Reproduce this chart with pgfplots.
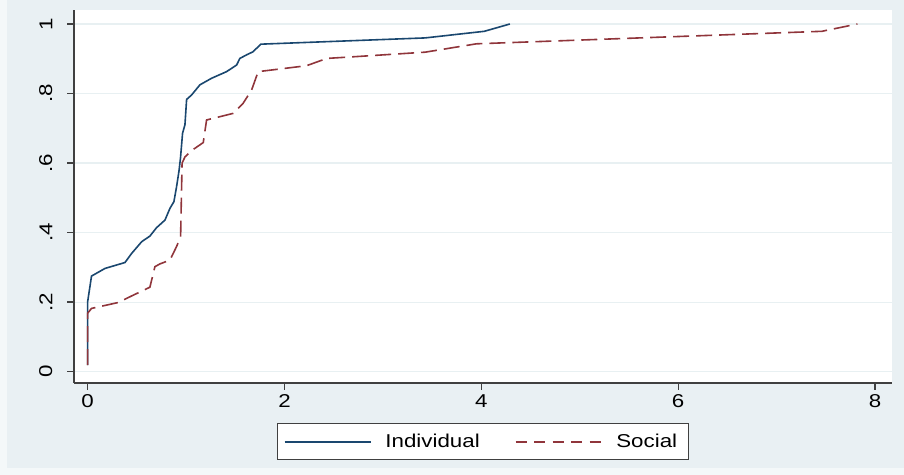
\documentclass[border=0pt]{standalone}
\usepackage{pgfplots}
\pgfplotsset{compat=1.18}
\usepackage{fontspec}
\setmainfont{Liberation Sans}[FakeStretch=1.2]
\definecolor{navy}{RGB}{26,71,111}
\definecolor{maroon}{RGB}{144,53,59}
\definecolor{bgc}{RGB}{233,240,243}
\definecolor{gridc}{RGB}{232,240,242}
\begin{document}
\fontsize{9.3}{11}\selectfont
\begin{tikzpicture}
\useasboundingbox (0,0) rectangle (452pt,237.5pt);
\fill[white!50!bgc] (0,0) rectangle (452pt,237.5pt);
\fill[bgc] (3.5pt,3.5pt) rectangle (452pt,237.5pt);
\begin{axis}[
  at={(37pt,46pt)}, anchor=south west,
  scale only axis, width=409pt, height=186.5pt,
  xmin=-0.138, xmax=8.172, ymin=-0.0325, ymax=1.0403,
  axis x line*=bottom, axis y line*=left,
  axis line style={draw=black!75, line width=0.7pt, -},
  axis background/.style={fill=white},
  xtick={0,2,4,6,8}, xticklabels={0,2,4,6,8},
  ytick={0,0.2,0.4,0.6,0.8,1}, yticklabels={0,.2,.4,.6,.8,1},
  tick align=outside, major tick length=3.5pt,
  tick style={draw=black!75, line width=0.7pt},
  ymajorgrids, grid style={gridc, line width=0.6pt},
  yticklabel style={rotate=90, anchor=south, yshift=4pt},
  xticklabel style={yshift=1pt},
  legend columns=2,
  legend image code/.code={\draw[#1] (0pt,0pt) -- (43pt,0pt);},
  legend style={at={(0.5,-0.1072)}, anchor=north, draw=black!75, line width=0.6pt,
    fill=white, inner xsep=3pt, inner ysep=2.5pt,
    nodes={inner sep=2.5pt},
    /tikz/every odd column/.append style={column sep=4.5pt},
    /tikz/every even column/.append style={column sep=15pt}},
  legend cell align=left,
]
\addlegendimage{navy, line width=0.8pt}
\addlegendentry{Individual}
\addlegendimage{maroon, line width=0.8pt, dash pattern=on 5.5pt off 3.75pt}
\addlegendentry{Social\hspace{1.5pt}}
\addplot[navy, line width=0.8pt, forget plot] coordinates {
(0,0.019) (0,0.2) (0.04,0.275) (0.177,0.297) (0.38,0.314) (0.447,0.34)
(0.55,0.374) (0.633,0.39) (0.70,0.414) (0.786,0.436) (0.837,0.47)
(0.877,0.489) (0.904,0.532) (0.93,0.58) (0.945,0.618) (0.965,0.686)
(0.989,0.71) (1.006,0.783) (1.057,0.796) (1.141,0.825) (1.26,0.844)
(1.412,0.863) (1.514,0.882) (1.547,0.901) (1.62,0.912) (1.68,0.92)
(1.76,0.942) (3.43,0.96) (4.03,0.979) (4.29,1.0)
};
\addplot[maroon, line width=0.8pt, dash pattern=on 8pt off 3.5pt, forget plot] coordinates {
(0,0.019) (0,0.168) (0.04,0.182) (0.312,0.199) (0.397,0.211) (0.633,0.243)
(0.684,0.302) (0.735,0.31) (0.837,0.321) (0.904,0.36) (0.945,0.388)
(0.96,0.60) (0.99,0.618) (1.057,0.636) (1.175,0.659) (1.209,0.724)
(1.48,0.743) (1.58,0.772) (1.666,0.81) (1.733,0.863) (2.224,0.88)
(2.43,0.901) (2.77,0.907) (3.43,0.919) (3.95,0.943) (7.46,0.979) (7.82,1.0)
};
\end{axis}
\end{tikzpicture}
\end{document}
